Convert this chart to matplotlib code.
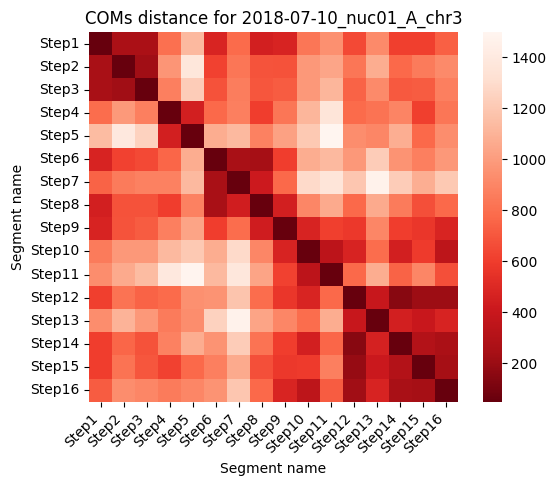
import numpy as np
import matplotlib
matplotlib.use("Agg")
import matplotlib.pyplot as plt
import seaborn as sns

segments = [f"Step{i}" for i in range(1, 17)]

row01 = [50, 260, 260, 800, 1130, 480, 780, 450, 470, 830, 950, 650, 920, 610, 610, 740]
row02 = [250, 50, 220, 970, 1370, 620, 830, 690, 680, 980, 1040, 830, 1070, 770, 850, 920]
row03 = [250, 220, 50, 870, 1220, 680, 860, 700, 720, 980, 1110, 750, 920, 710, 720, 870]
row04 = [790, 990, 870, 50, 450, 770, 870, 600, 830, 1110, 1360, 780, 820, 890, 610, 830]
row05 = [1140, 1390, 1250, 450, 50, 1070, 1130, 880, 1020, 1200, 1500, 930, 900, 1080, 770, 930]
row06 = [470, 620, 650, 760, 1070, 50, 250, 240, 600, 1070, 1130, 980, 1220, 960, 870, 980]
row07 = [750, 850, 880, 880, 1130, 250, 50, 420, 770, 1290, 1360, 1190, 1470, 1220, 1080, 1200]
row08 = [450, 680, 680, 600, 880, 250, 440, 50, 450, 900, 1060, 770, 1060, 850, 670, 770]
row09 = [470, 690, 720, 870, 1030, 600, 790, 430, 50, 470, 610, 580, 900, 600, 570, 480]
row10 = [850, 980, 980, 1130, 1200, 1070, 1290, 900, 470, 50, 340, 470, 790, 450, 590, 350]
row11 = [930, 1060, 1140, 1390, 1490, 1130, 1380, 1030, 620, 340, 50, 770, 1070, 750, 900, 670]
row12 = [610, 820, 750, 780, 950, 960, 1180, 790, 570, 480, 770, 50, 390, 150, 210, 210]
row13 = [930, 1100, 980, 850, 930, 1250, 1470, 1030, 900, 790, 1070, 390, 50, 450, 400, 470]
row14 = [600, 760, 680, 880, 1070, 960, 1220, 820, 600, 450, 760, 150, 460, 50, 300, 260]
row15 = [600, 820, 700, 620, 770, 870, 1060, 670, 580, 590, 870, 190, 410, 300, 50, 240]
row16 = [720, 930, 900, 850, 900, 960, 1190, 770, 480, 350, 720, 220, 470, 250, 240, 50]

matrix = np.array([row01, row02, row03, row04, row05, row06, row07, row08,
                   row09, row10, row11, row12, row13, row14, row15, row16], dtype=float)

fig = plt.figure(figsize=(5.56, 4.86), dpi=100)
ax = fig.add_axes([0.1606, 0.1735, 0.6626, 0.7607])
cax = fig.add_axes([0.8692, 0.1735, 0.0331, 0.7607])
sns.heatmap(matrix, cmap="Reds_r", ax=ax, cbar_ax=cax,
            xticklabels=segments, yticklabels=segments)
ax.set_title("COMs distance for 2018-07-10_nuc01_A_chr3")
ax.set_xlabel("Segment name")
ax.set_ylabel("Segment name")
plt.setp(ax.get_xticklabels(), rotation=45, ha="right")
plt.setp(ax.get_yticklabels(), rotation=0)
fig.savefig("out.png", dpi=100)
